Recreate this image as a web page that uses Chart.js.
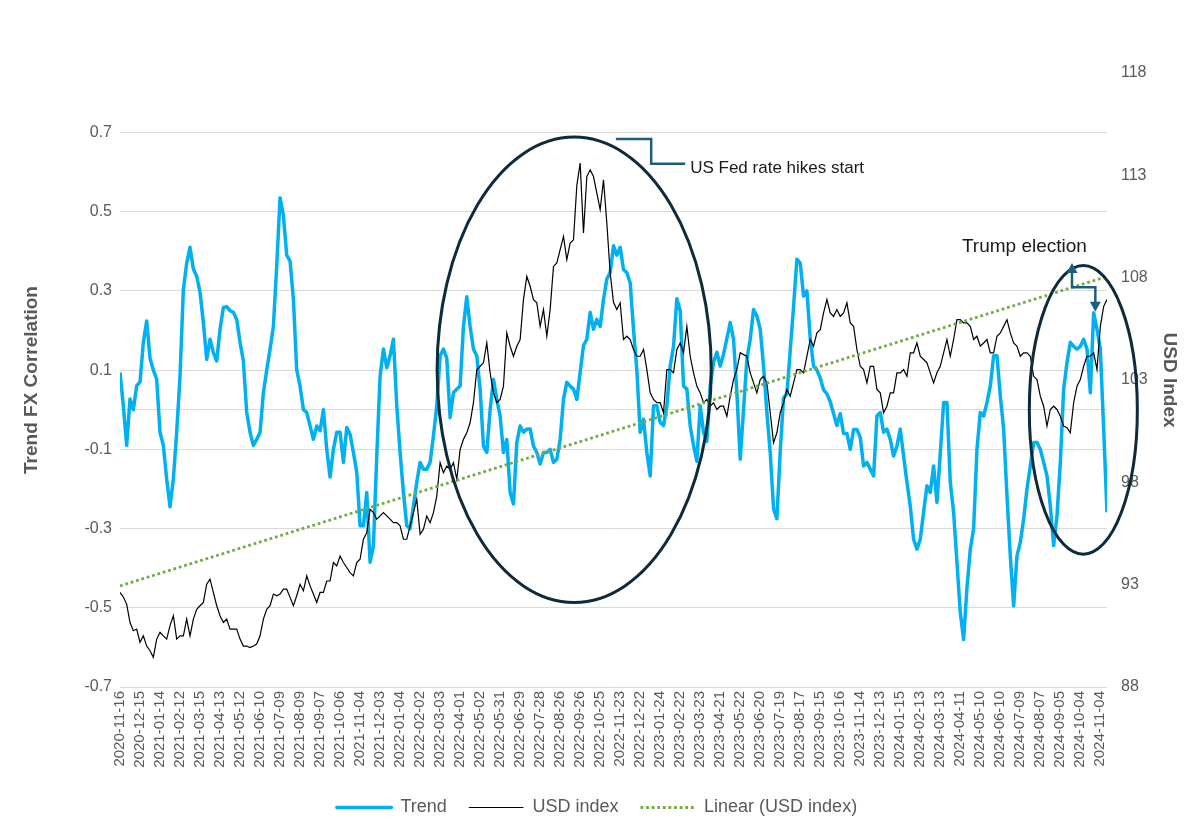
<!DOCTYPE html>
<html lang="en">
<head>
<meta charset="UTF-8">
<title>Trend FX Correlation vs USD Index</title>
<script src="https://cdn.jsdelivr.net/npm/chart.js"></script>
<style>
  body { margin: 0; background: #fff; }
  canvas { display: block; }
</style>
</head>
<body>
<canvas id="chart" width="1194" height="833"></canvas>
<script>
// date shown under every 6th point
const dateLabels = [
  '2020-11-16','2020-12-15','2021-01-14','2021-02-12','2021-03-15','2021-04-13','2021-05-12','2021-06-10',
  '2021-07-09','2021-08-09','2021-09-07','2021-10-06','2021-11-04','2021-12-03','2022-01-04','2022-02-02',
  '2022-03-03','2022-04-01','2022-05-02','2022-05-31','2022-06-29','2022-07-28','2022-08-26','2022-09-26',
  '2022-10-25','2022-11-23','2022-12-22','2023-01-24','2023-02-22','2023-03-23','2023-04-21','2023-05-22',
  '2023-06-20','2023-07-19','2023-08-17','2023-09-15','2023-10-16','2023-11-14','2023-12-13','2024-01-15',
  '2024-02-13','2024-03-13','2024-04-11','2024-05-10','2024-06-10','2024-07-09','2024-08-07','2024-09-05',
  '2024-10-04','2024-11-04'
];
const labelEvery = 6;

// Trend FX correlation (left axis)
const trend = [
  0.094,0.01,-0.09,0.027,0,0.06,0.07,0.17,0.224,0.13,
  0.10,0.077,-0.057,-0.09,-0.175,-0.245,-0.175,-0.057,0.085,0.303,
  0.37,0.41,0.355,0.337,0.296,0.22,0.127,0.178,0.144,0.123,
  0.203,0.258,0.26,0.25,0.246,0.228,0.17,0.123,-0.007,-0.057,
  -0.09,-0.075,-0.057,0.043,0.10,0.153,0.21,0.363,0.535,0.49,
  0.39,0.375,0.28,0.10,0.06,0,-0.007,-0.041,-0.075,-0.041,
  -0.053,0,-0.10,-0.17,-0.10,-0.057,-0.057,-0.133,-0.045,-0.062,
  -0.108,-0.158,-0.293,-0.293,-0.209,-0.385,-0.343,-0.117,0.085,0.153,
  0.106,0.136,0.178,0.01,-0.108,-0.209,-0.293,-0.30,-0.243,-0.183,
  -0.133,-0.15,-0.15,-0.133,-0.066,0.01,0.136,0.153,0.13,-0.02,
  0.043,0.052,0.06,0.21,0.285,0.21,0.153,0.136,0.052,-0.092,
  -0.108,0,0.077,0.026,-0.016,-0.108,-0.075,-0.209,-0.238,-0.083,
  -0.041,-0.057,-0.049,-0.049,-0.092,-0.108,-0.137,-0.108,-0.108,-0.10,
  -0.133,-0.125,-0.075,0.026,0.069,0.06,0.052,0.026,0.094,0.162,
  0.178,0.246,0.203,0.228,0.21,0.278,0.33,0.346,0.414,0.39,
  0.41,0.354,0.346,0.32,0.203,0.10,-0.057,-0.024,-0.108,-0.167,
  0.01,0.01,-0.032,-0.04,0.01,0.11,0.16,0.28,0.25,0.06,
  0.052,-0.041,-0.09,-0.13,0.01,-0.057,-0.08,0.06,0.12,0.145,
  0.11,0.14,0.18,0.22,0.178,0.043,-0.125,0,0.127,0.178,
  0.253,0.237,0.203,0.11,-0.007,-0.108,-0.25,-0.275,-0.105,0.03,
  0.04,0.15,0.26,0.38,0.37,0.287,0.30,0.18,0.11,0.10,
  0.08,0.05,0.04,0.02,-0.01,-0.04,-0.01,-0.06,-0.06,-0.10,
  -0.05,-0.05,-0.07,-0.142,-0.133,-0.15,-0.167,-0.016,-0.007,-0.057,
  -0.049,-0.075,-0.117,-0.092,-0.049,-0.117,-0.183,-0.243,-0.327,-0.352,
  -0.327,-0.259,-0.192,-0.209,-0.142,-0.234,-0.11,0.018,0.018,-0.183,
  -0.259,-0.385,-0.512,-0.58,-0.45,-0.352,-0.30,-0.10,-0.007,-0.016,
  0.018,0.06,0.136,0.136,0.035,-0.049,-0.217,-0.369,-0.495,-0.369,
  -0.335,-0.276,-0.20,-0.142,-0.083,-0.083,-0.10,-0.133,-0.167,-0.243,
  -0.343,-0.268,-0.133,0.052,0.119,0.17,0.16,0.153,0.16,0.178,
  0.153,0.043,0.245,0.203,0.153,-0.049,-0.259
];

// USD index (right axis)
const usdIndex = [
  92.62,92.4,92.05,91.15,90.75,90.83,90.18,90.5,90.0,89.77,
  89.45,90.34,90.67,90.5,90.34,91.0,91.48,90.34,90.5,90.5,
  91.32,90.5,91.32,91.8,91.97,92.13,93.02,93.27,92.62,91.97,
  91.48,91.15,91.32,90.83,90.83,90.83,90.34,90.0,90.0,89.93,
  90.0,90.1,90.5,91.32,91.8,91.97,92.54,92.46,92.54,92.78,
  92.78,92.38,91.97,92.46,93.02,92.7,93.43,92.94,92.54,92.13,
  92.62,92.62,93.18,93.18,94.08,93.92,94.4,94.08,93.84,93.59,
  93.43,94.08,94.24,95.22,95.54,96.68,96.52,96.2,96.36,96.52,
  96.36,96.2,96.03,96.03,95.87,95.22,95.22,95.87,96.52,97.17,
  95.46,95.71,96.36,96.03,96.52,97.33,98.96,98.47,98.8,98.63,
  98.96,98.15,99.6,100.1,100.42,100.91,101.89,103.5,103.67,103.84,
  104.81,103.35,102.37,101.89,102.05,102.7,105.3,104.65,104.16,104.65,
  104.98,106.93,108.06,107.58,106.93,106.77,105.62,106.44,105.14,106.44,
  108.55,108.72,109.37,110.01,108.88,109.69,109.85,112.5,113.6,110.18,
  112.94,113.27,112.94,112.13,111.32,112.78,110.67,108.23,106.8,106.44,
  106.77,104.98,105.14,104.98,104.49,104.16,104.16,104.49,103.51,102.37,
  102.05,101.89,101.89,101.4,103.51,103.51,103.35,104.49,104.81,104.33,
  105.62,104.16,103.35,102.7,102.37,101.89,102.05,101.72,101.89,101.56,
  101.72,101.72,101.23,102.21,103.02,103.51,104.33,104.24,104.16,103.35,
  102.86,102.37,103.02,103.18,102.86,101.4,99.93,100.42,101.4,101.89,
  102.54,102.21,102.86,103.51,103.51,103.35,104.16,104.98,104.65,105.3,
  105.46,106.28,106.93,106.28,106.11,106.44,106.11,106.28,106.77,105.79,
  105.62,104.49,103.67,103.51,102.86,103.67,103.67,102.54,102.37,101.4,
  101.72,102.37,102.37,103.35,103.35,103.51,103.18,104.33,104.33,104.81,
  104.16,104.0,103.84,103.35,102.86,103.35,103.67,104.33,104.98,104.16,
  104.98,105.95,105.95,105.79,105.79,105.62,104.98,105.14,104.65,104.81,
  104.98,104.33,104.33,105.14,105.3,105.62,105.95,105.3,104.81,104.65,
  104.16,104.33,104.33,104.16,103.18,103.02,102.21,101.72,100.75,101.56,
  101.72,101.56,101.23,100.75,100.67,100.42,101.89,102.7,103.02,103.67,
  104.16,104.16,104.33,103.51,105.62,106.6,106.93
];

// linear trendline of the USD index, first and last point
const linearUsd = [92.94, 108.06];

const leftTicks = [-0.7, -0.5, -0.3, -0.1, 0, 0.1, 0.3, 0.5, 0.7];
const rightTicks = [88, 93, 98, 103, 108, 113, 118];

// annotations, in data units (x = point index, y = USD index)
const ellipses = [
  { x: 136.2, y: 103.5, rx: 41.1, ry: 11.37 },
  { x: 288.9, y: 101.54, rx: 16.2, ry: 7.05 }
];
const fedNote = { text: 'US Fed rate hikes start', at: [171, 113.12],
  path: [[148.7, 114.77], [159.3, 114.77], [159.3, 113.56], [169.5, 113.56]] };
const trumpNote = { text: 'Trump election', at: [252.5, 109.27],
  path: [[285.5, 108.72], [285.5, 107.53], [292.5, 107.53], [292.5, 106.34]] };

Chart.defaults.font.family = "'Liberation Sans', Arial, sans-serif";

function arrowHead(ctx, x, y, dir) {
  ctx.beginPath();
  ctx.moveTo(x, y);
  ctx.lineTo(x - 5.5, y - dir * 10);
  ctx.lineTo(x + 5.5, y - dir * 10);
  ctx.closePath();
  ctx.fill();
}

const notesPlugin = {
  id: 'notes',
  afterDatasetsDraw(chart) {
    const { ctx } = chart;
    const xs = chart.scales.x, ys = chart.scales.y1;
    const px = v => xs.getPixelForValue(v);
    const py = v => ys.getPixelForValue(v);
    ctx.save();

    ctx.strokeStyle = '#0e2a3b';
    ctx.lineWidth = 3;
    ellipses.forEach(e => {
      const cx = px(e.x), cy = py(e.y);
      ctx.beginPath();
      ctx.ellipse(cx, cy, px(e.x + e.rx) - cx, cy - py(e.y + e.ry), 0, 0, Math.PI * 2);
      ctx.stroke();
    });

    ctx.strokeStyle = '#1d5d80';
    ctx.fillStyle = '#1d5d80';
    ctx.lineWidth = 2.5;
    ctx.lineJoin = 'miter';
    ctx.beginPath();
    fedNote.path.forEach((p, i) => i ? ctx.lineTo(px(p[0]), py(p[1])) : ctx.moveTo(px(p[0]), py(p[1])));
    ctx.stroke();

    // trump connector with arrows on both ends
    const tp = trumpNote.path.map(p => [px(p[0]), py(p[1])]);
    ctx.beginPath();
    ctx.moveTo(tp[0][0], tp[0][1] + 9);
    ctx.lineTo(tp[1][0], tp[1][1]);
    ctx.lineTo(tp[2][0], tp[2][1]);
    ctx.lineTo(tp[3][0], tp[3][1] - 9);
    ctx.stroke();
    arrowHead(ctx, tp[0][0], tp[0][1], -1);
    arrowHead(ctx, tp[3][0], tp[3][1], 1);

    ctx.fillStyle = '#1a1a1a';
    ctx.textBaseline = 'alphabetic';
    ctx.textAlign = 'left';
    ctx.font = "17px 'Liberation Sans', Arial, sans-serif";
    ctx.fillText(fedNote.text, px(fedNote.at[0]), py(fedNote.at[1]));
    ctx.font = "19px 'Liberation Sans', Arial, sans-serif";
    ctx.fillText(trumpNote.text, px(trumpNote.at[0]), py(trumpNote.at[1]));
    ctx.restore();
  }
};

new Chart(document.getElementById('chart'), {
  type: 'line',
  data: {
    datasets: [
      {
        label: 'Trend',
        data: trend.map((v, i) => ({ x: i, y: v })),
        yAxisID: 'y',
        borderColor: '#00B0F0',
        backgroundColor: '#00B0F0',
        borderWidth: 3.5,
        borderJoinStyle: 'round',
        pointRadius: 0,
        order: 3
      },
      {
        label: 'USD index',
        data: usdIndex.map((v, i) => ({ x: i, y: v })),
        yAxisID: 'y1',
        borderColor: '#000000',
        backgroundColor: '#000000',
        borderWidth: 1.2,
        pointRadius: 0,
        order: 2
      },
      {
        label: 'Linear (USD index)',
        data: [{ x: 0, y: linearUsd[0] }, { x: usdIndex.length - 1, y: linearUsd[1] }],
        yAxisID: 'y1',
        borderColor: '#70AD47',
        backgroundColor: '#70AD47',
        borderWidth: 2.8,
        borderDash: [2.8, 2.8],
        pointRadius: 0,
        order: 1
      }
    ]
  },
  options: {
    responsive: false,
    animation: false,
    layout: { padding: { top: 73, left: 0, right: 0, bottom: 6.5 } },
    plugins: {
      legend: {
        position: 'bottom',
        labels: {
          // zero-height box = a stroked line sample that keeps the dash pattern
          boxWidth: 54.6,
          boxHeight: 0,
          padding: 22,
          color: '#595959',
          font: { size: 18 },
          sort: (a, b) => a.datasetIndex - b.datasetIndex
        }
      },
      tooltip: { enabled: false }
    },
    scales: {
      x: {
        type: 'linear',
        min: 0,
        max: usdIndex.length - 1,
        afterBuildTicks: s => { s.ticks = dateLabels.map((d, k) => ({ value: k * labelEvery })); },
        afterFit: s => { s.height = 89.5; },
        grid: { display: false, drawTicks: false },
        border: { display: false },
        ticks: {
          autoSkip: false, maxRotation: 90, minRotation: 90, padding: 4,
          color: '#595959', font: { size: 15 },
          callback: v => dateLabels[Math.round(v / labelEvery)]
        }
      },
      y: {
        position: 'left',
        min: -0.7,
        max: 0.85,
        afterBuildTicks: s => { s.ticks = leftTicks.map(v => ({ value: v })); },
        afterFit: s => { s.width = 120; },
        grid: { color: '#d9d9d9', lineWidth: 1, drawTicks: false },
        border: { display: false },
        ticks: {
          autoSkip: false, padding: 8, color: '#595959', font: { size: 16 },
          callback: v => v === 0 ? '' : v.toFixed(1)
        },
        title: {
          display: true, text: 'Trend FX Correlation', color: '#595959',
          font: { size: 19, weight: 'bold' }, padding: { top: 20, bottom: 0 }
        }
      },
      y1: {
        position: 'right',
        min: 88,
        max: 118,
        afterBuildTicks: s => { s.ticks = rightTicks.map(v => ({ value: v })); },
        afterFit: s => { s.width = 87; },
        grid: { drawOnChartArea: false, drawTicks: false },
        border: { display: false },
        ticks: { autoSkip: false, padding: 14, color: '#595959', font: { size: 16 } },
        title: {
          display: true, text: 'USD Index', color: '#595959',
          font: { size: 19, weight: 'bold' }, padding: { top: 13, bottom: 0 }
        }
      }
    }
  },
  plugins: [notesPlugin]
});
</script>
</body>
</html>
